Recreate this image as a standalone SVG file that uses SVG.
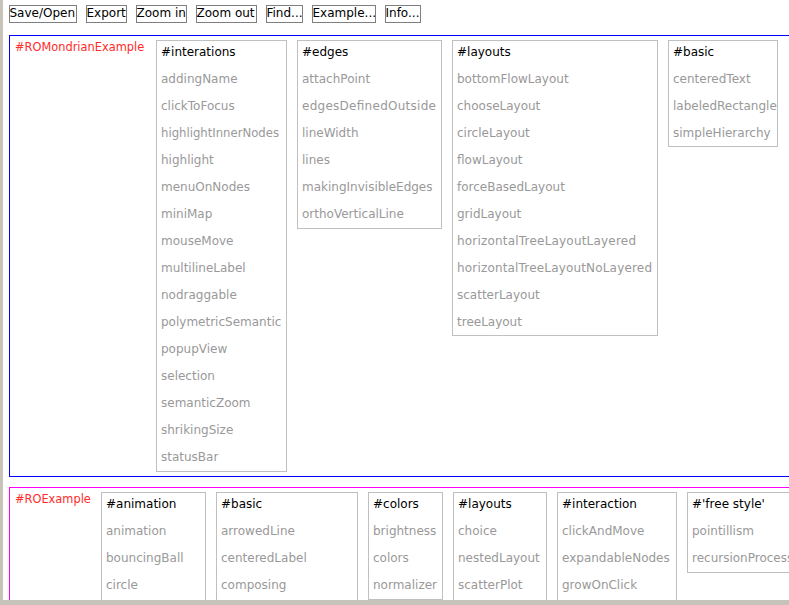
<svg xmlns="http://www.w3.org/2000/svg" width="789" height="605" viewBox="0 0 789 605">
<style>
text{font-family:"DejaVu Sans","Liberation Sans",sans-serif;font-size:12px}
.btn rect{fill:#fff;stroke:#7f7f7f;stroke-width:1}
.btn text{fill:#000}
.grp{fill:none;stroke-width:1}
.cat rect{fill:#fff;stroke:#c0c0c0;stroke-width:1}
.hd{fill:#000}
.it{fill:#999999}
.lbl{fill:#ff2a2a;font-size:11.4px}
</style>
<rect x="0" y="0" width="789" height="605" fill="#ffffff"/>
<g id="toolbar">
<g id="btn-save" class="btn"><rect x="9.5" y="5.5" width="67" height="17"/><text x="9.5" y="17">Save/Open</text></g>
<g id="btn-export" class="btn"><rect x="86.5" y="5.5" width="40" height="17"/><text x="86.5" y="17">Export</text></g>
<g id="btn-zoomin" class="btn"><rect x="136.5" y="5.5" width="50" height="17"/><text x="136.5" y="17">Zoom in</text></g>
<g id="btn-zoomout" class="btn"><rect x="196.5" y="5.5" width="60" height="17"/><text x="196.5" y="17">Zoom out</text></g>
<g id="btn-find" class="btn"><rect x="266.5" y="5.5" width="36" height="17"/><text x="266.5" y="17">Find...</text></g>
<g id="btn-example" class="btn"><rect x="312.5" y="5.5" width="63" height="17"/><text x="312.5" y="17">Example...</text></g>
<g id="btn-info" class="btn"><rect x="385.5" y="5.5" width="35" height="17"/><text x="385.5" y="17">Info...</text></g>
</g>
<g id="connectors"></g>
<g id="ROMondrianExample">
<rect class="grp" x="9.5" y="35.5" width="800" height="441" stroke="#0000ff"/>
<text class="lbl" x="15" y="51">#ROMondrianExample</text>
</g>
<g id="m-interations" class="cat">
<rect x="156.5" y="40.5" width="130" height="431"/>
<text class="hd" x="161" y="56">#interations</text>
<text class="it" x="161" y="83">addingName</text>
<text class="it" x="161" y="110">clickToFocus</text>
<text class="it" x="161" y="137" textLength="118" lengthAdjust="spacingAndGlyphs">highlightInnerNodes</text>
<text class="it" x="161" y="164">highlight</text>
<text class="it" x="161" y="191">menuOnNodes</text>
<text class="it" x="161" y="218">miniMap</text>
<text class="it" x="161" y="245">mouseMove</text>
<text class="it" x="161" y="272">multilineLabel</text>
<text class="it" x="161" y="299">nodraggable</text>
<text class="it" x="161" y="326">polymetricSemantic</text>
<text class="it" x="161" y="353">popupView</text>
<text class="it" x="161" y="380">selection</text>
<text class="it" x="161" y="407">semanticZoom</text>
<text class="it" x="161" y="434">shrikingSize</text>
<text class="it" x="161" y="461">statusBar</text>
</g>
<g id="m-edges" class="cat">
<rect x="297.5" y="40.5" width="144" height="188"/>
<text class="hd" x="302" y="56">#edges</text>
<text class="it" x="302" y="83">attachPoint</text>
<text class="it" x="302" y="110" textLength="134" lengthAdjust="spacing">edgesDefinedOutside</text>
<text class="it" x="302" y="137">lineWidth</text>
<text class="it" x="302" y="164">lines</text>
<text class="it" x="302" y="191">makingInvisibleEdges</text>
<text class="it" x="302" y="218">orthoVerticalLine</text>
</g>
<g id="m-layouts" class="cat">
<rect x="452.5" y="40.5" width="205" height="295"/>
<text class="hd" x="457" y="56">#layouts</text>
<text class="it" x="457" y="83">bottomFlowLayout</text>
<text class="it" x="457" y="110">chooseLayout</text>
<text class="it" x="457" y="137">circleLayout</text>
<text class="it" x="457" y="164">flowLayout</text>
<text class="it" x="457" y="191">forceBasedLayout</text>
<text class="it" x="457" y="218">gridLayout</text>
<text class="it" x="457" y="245" textLength="179" lengthAdjust="spacing">horizontalTreeLayoutLayered</text>
<text class="it" x="457" y="272" textLength="195" lengthAdjust="spacing">horizontalTreeLayoutNoLayered</text>
<text class="it" x="457" y="299">scatterLayout</text>
<text class="it" x="457" y="326">treeLayout</text>
</g>
<g id="m-basic" class="cat">
<rect x="668.5" y="40.5" width="109" height="106"/>
<text class="hd" x="673" y="56">#basic</text>
<text class="it" x="673" y="83">centeredText</text>
<text class="it" x="673" y="110">labeledRectangle</text>
<text class="it" x="673" y="137">simpleHierarchy</text>
</g>
<g id="ROExample">
<rect class="grp" x="9.5" y="487.5" width="800" height="200" stroke="#ff00ff"/>
<text class="lbl" x="15" y="503">#ROExample</text>
</g>
<g id="e-animation" class="cat">
<rect x="101.5" y="492.5" width="104" height="120"/>
<text class="hd" x="106" y="508">#animation</text>
<text class="it" x="106" y="535">animation</text>
<text class="it" x="106" y="562">bouncingBall</text>
<text class="it" x="106" y="589">circle</text>
</g>
<g id="e-basic" class="cat">
<rect x="216.5" y="492.5" width="141" height="120"/>
<text class="hd" x="221" y="508">#basic</text>
<text class="it" x="221" y="535">arrowedLine</text>
<text class="it" x="221" y="562">centeredLabel</text>
<text class="it" x="221" y="589">composing</text>
</g>
<g id="e-colors" class="cat">
<rect x="368.5" y="492.5" width="74" height="107"/>
<text class="hd" x="373" y="508">#colors</text>
<text class="it" x="373" y="535">brightness</text>
<text class="it" x="373" y="562">colors</text>
<text class="it" x="373" y="589">normalizer</text>
</g>
<g id="e-layouts" class="cat">
<rect x="453.5" y="492.5" width="93" height="120"/>
<text class="hd" x="458" y="508">#layouts</text>
<text class="it" x="458" y="535">choice</text>
<text class="it" x="458" y="562">nestedLayout</text>
<text class="it" x="458" y="589">scatterPlot</text>
</g>
<g id="e-interaction" class="cat">
<rect x="557.5" y="492.5" width="119" height="120"/>
<text class="hd" x="562" y="508">#interaction</text>
<text class="it" x="562" y="535">clickAndMove</text>
<text class="it" x="562" y="562">expandableNodes</text>
<text class="it" x="562" y="589">growOnClick</text>
</g>
<g id="e-freestyle" class="cat">
<rect x="687.5" y="492.5" width="150" height="80"/>
<text class="hd" x="692" y="508">#'free style'</text>
<text class="it" x="692" y="535">pointillism</text>
<text class="it" x="692" y="562">recursionProcess</text>
</g>
<g id="frame">
<rect x="0" y="0" width="3" height="605" fill="#c8c3b9"/>
<rect x="0" y="600" width="789" height="5" fill="#c8c3b9"/>
</g>
</svg>
